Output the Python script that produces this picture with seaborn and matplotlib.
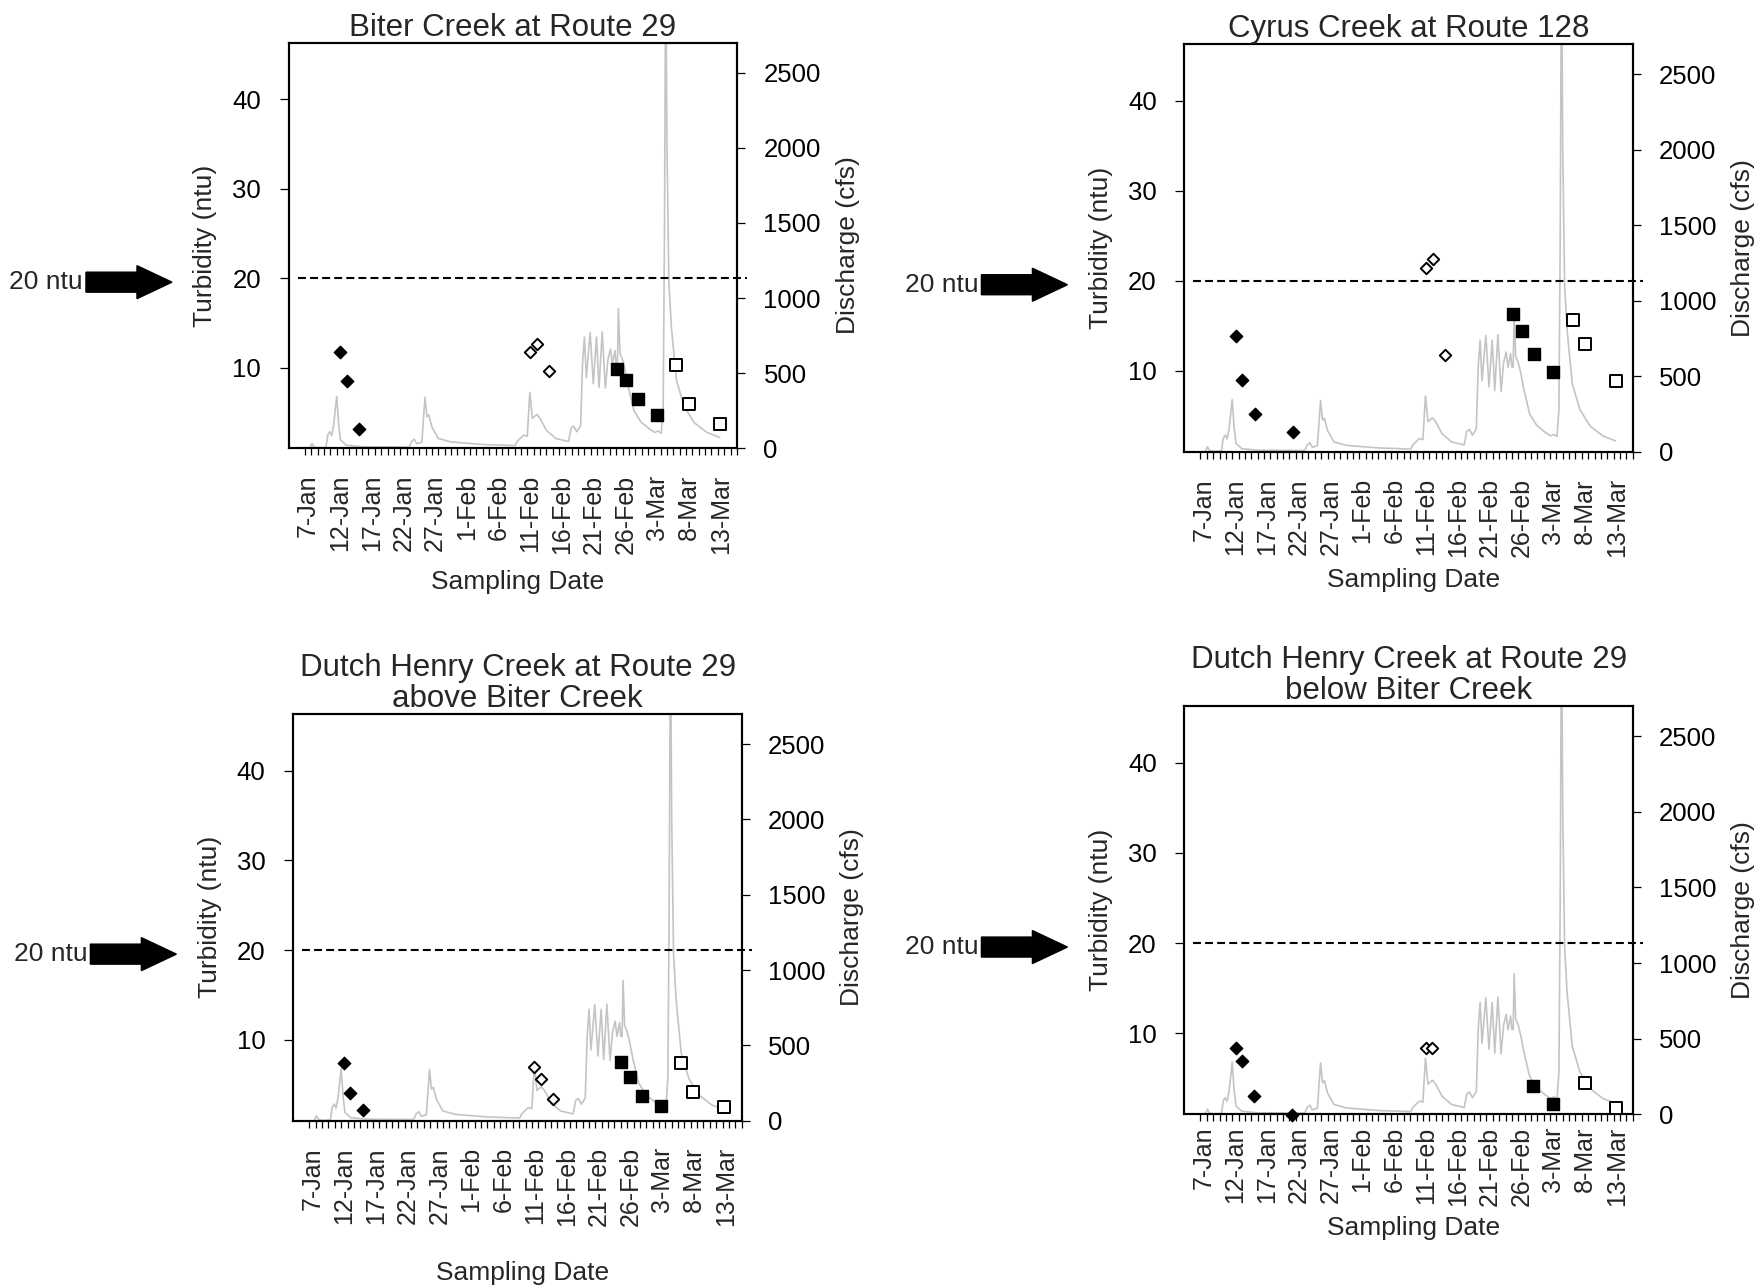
import numpy as np
import matplotlib
matplotlib.use('Agg')
import matplotlib.pyplot as plt
import seaborn as sns
from matplotlib.patches import FancyArrow
from matplotlib.transforms import IdentityTransform

sns.set_style('ticks')
plt.rcParams['font.family'] = ['Liberation Sans', 'DejaVu Sans']

# x axis is days after 7-Jan 00:00
date_labels = ['7-Jan', '12-Jan', '17-Jan', '22-Jan', '27-Jan', '1-Feb', '6-Feb',
               '11-Feb', '16-Feb', '21-Feb', '26-Feb', '3-Mar', '8-Mar', '13-Mar']

# discharge hydrograph (cfs), same gauge shown in every panel
flow_day = [0.8, 1.1, 1.4, 2.0, 3.3, 3.6, 3.9, 4.2, 4.5, 5.0, 5.3, 5.6, 6.5, 9.0,
            16.4, 16.8, 17.2, 17.6, 18.4, 18.9, 19.2, 19.5, 20.0, 21.0, 23.0, 28.0,
            33.1, 33.4, 34.0, 34.5, 35.0, 35.4, 35.8, 36.5, 37.0, 38.0, 39.5, 41.5,
            41.9, 42.3, 42.8, 43.4, 43.7, 44.0, 44.3, 44.9, 45.4, 45.9, 46.3, 46.8,
            47.3, 47.7, 48.1, 48.4, 48.8, 49.0, 49.2, 49.35, 49.6, 50.0, 50.4, 50.9,
            51.8, 52.9, 54.2, 55.1, 55.6, 56.1, 56.4, 56.6, 56.8, 57.0, 57.3, 57.7,
            58.5, 59.7, 61.3, 63.3, 65.3]
flow_cfs = [5, 33, 10, 3, 5, 90, 110, 85, 150, 345, 160, 55, 20, 10,
            8, 45, 60, 30, 40, 340, 210, 222, 140, 65, 42, 25,
            18, 45, 70, 88, 80, 370, 200, 225, 200, 120, 65, 45,
            135, 148, 110, 150, 560, 740, 470, 770, 430, 740, 405, 775,
            400, 590, 660, 560, 650, 560, 560, 930, 630, 590, 520, 410,
            250, 175, 130, 105, 115, 100, 280, 1400, 3300, 2000, 1100, 800,
            450, 280, 170, 105, 72]

# turbidity samples (ntu): fd = filled diamond, od = open diamond,
# fs = filled square, os = open square
biter_day_fd = [5.55, 6.55, 8.45]
biter_ntu_fd = [11.7, 8.5, 3.1]
biter_day_od = [35.4, 36.5, 38.4]
biter_ntu_od = [11.8, 12.7, 9.6]
biter_day_fs = [49.1, 50.5, 52.4, 55.4]
biter_ntu_fs = [9.9, 8.6, 6.5, 4.7]
biter_day_os = [58.4, 60.4, 65.3]
biter_ntu_os = [10.3, 6.0, 3.7]

cyrus_day_fd = [5.6, 6.5, 8.6, 14.5]
cyrus_ntu_fd = [13.9, 9.0, 5.2, 3.2]
cyrus_day_od = [35.5, 36.6, 38.5]
cyrus_ntu_od = [21.4, 22.4, 11.7]
cyrus_day_fs = [49.1, 50.6, 52.5, 55.5]
cyrus_ntu_fs = [16.3, 14.4, 11.9, 9.9]
cyrus_day_os = [58.6, 60.5, 65.4]
cyrus_ntu_os = [15.6, 13.0, 8.9]

dh_above_day_fd = [5.5, 6.4, 8.5]
dh_above_ntu_fd = [7.4, 4.1, 2.2]
dh_above_day_od = [35.4, 36.4, 38.3]
dh_above_ntu_od = [7.0, 5.7, 3.4]
dh_above_day_fs = [49.1, 50.4, 52.3, 55.3]
dh_above_ntu_fs = [7.5, 5.9, 3.8, 2.6]
dh_above_day_os = [58.4, 60.4, 65.3]
dh_above_ntu_os = [7.4, 4.2, 2.5]

dh_below_day_fd = [5.6, 6.5, 8.45, 14.4]
dh_below_ntu_fd = [8.3, 6.9, 3.0, 0.95]
dh_below_day_od = [35.5, 36.5]
dh_below_ntu_od = [8.4, 8.4]
dh_below_day_fs = [52.4, 55.4]
dh_below_ntu_fs = [4.15, 2.1]
dh_below_day_os = [60.5, 65.4]
dh_below_ntu_os = [4.5, 1.7]

threshold_ntu = 20

titles = ['Biter Creek at Route 29',
          'Cyrus Creek at Route 128',
          'Dutch Henry Creek at Route 29\nabove Biter Creek',
          'Dutch Henry Creek at Route 29\nbelow Biter Creek']

panels = [
    dict(fd=(biter_day_fd, biter_ntu_fd), od=(biter_day_od, biter_ntu_od),
         fs=(biter_day_fs, biter_ntu_fs), os=(biter_day_os, biter_ntu_os),
         pos=[0.1640, 0.6517, 0.2543, 0.3151], xlab=-0.30, xpad=19),
    dict(fd=(cyrus_day_fd, cyrus_ntu_fd), od=(cyrus_day_od, cyrus_ntu_od),
         fs=(cyrus_day_fs, cyrus_ntu_fs), os=(cyrus_day_os, cyrus_ntu_os),
         pos=[0.6722, 0.6490, 0.2545, 0.3168], xlab=-0.285, xpad=19),
    dict(fd=(dh_above_day_fd, dh_above_ntu_fd), od=(dh_above_day_od, dh_above_ntu_od),
         fs=(dh_above_day_fs, dh_above_ntu_fs), os=(dh_above_day_os, dh_above_ntu_os),
         pos=[0.1665, 0.1292, 0.2545, 0.3160], xlab=-0.345, xpad=19),
    dict(fd=(dh_below_day_fd, dh_below_ntu_fd), od=(dh_below_day_od, dh_below_ntu_od),
         fs=(dh_below_day_fs, dh_below_ntu_fs), os=(dh_below_day_os, dh_below_ntu_os),
         pos=[0.6722, 0.1342, 0.2545, 0.3172], xlab=-0.25, xpad=9),
]

fig = plt.figure(figsize=(17.62, 12.87), dpi=100)
fs_txt = 19

for title, p in zip(titles, panels):
    ax2 = fig.add_axes(p['pos'])
    ax = ax2.twinx()
    # turbidity axis drawn on the left, discharge on the right
    ax.yaxis.tick_left()
    ax.yaxis.set_label_position('left')
    ax2.yaxis.tick_right()
    ax2.yaxis.set_label_position('right')

    sns.lineplot(x=flow_day, y=flow_cfs, ax=ax2, color='#c4c4c4', linewidth=1.2)

    ax.hlines(threshold_ntu, -1.1, 69.6, colors='black', linewidth=1.5,
              linestyles=(0, (3.8, 2.0)), clip_on=False)

    sns.scatterplot(x=p['fd'][0], y=p['fd'][1], ax=ax, marker='D', s=40,
                    color='black', edgecolor='black', linewidth=1, clip_on=False, zorder=5)
    sns.scatterplot(x=p['od'][0], y=p['od'][1], ax=ax, marker='D', s=34,
                    color='white', edgecolor='black', linewidth=1.4, zorder=5)
    sns.scatterplot(x=p['fs'][0], y=p['fs'][1], ax=ax, marker='s', s=85,
                    color='black', edgecolor='black', linewidth=1, zorder=5)
    sns.scatterplot(x=p['os'][0], y=p['os'][1], ax=ax, marker='s', s=66,
                    color='white', edgecolor='black', linewidth=1.4, clip_on=False, zorder=5)

    ax.set_xlim(-2.52, 68.03)
    ax2.set_xlim(-2.52, 68.03)
    ax.set_ylim(1.0, 46.3)
    ax2.set_ylim(0, 2700)

    ax.set_yticks([10, 20, 30, 40])
    ax2.set_yticks([0, 500, 1000, 1500, 2000, 2500])
    ax.tick_params(axis='y', length=6.5, width=0.9, pad=13.5, labelsize=18.5,
                   colors='black')
    ax2.tick_params(axis='y', length=6, width=0.9, pad=13, labelsize=18.5,
                    colors='black')

    ax2.set_xticks([0.5 + 5 * i for i in range(len(date_labels))])
    ax2.set_xticklabels(date_labels, rotation=90, va='top', ha='center')
    ax2.set_xticks(np.arange(0, 69), minor=True)
    ax2.tick_params(axis='x', which='major', length=0, pad=p['xpad'], labelsize=18)
    ax2.tick_params(axis='x', which='minor', length=5, width=0.9, direction='out',
                    colors='black')
    ax.tick_params(axis='x', which='both', bottom=False, labelbottom=False)

    for a in (ax, ax2):
        for s in a.spines.values():
            s.set_visible(True)
            s.set_color('black')
            s.set_linewidth(1.5)

    ax.set_ylabel('Turbidity (ntu)', fontsize=fs_txt)
    ax.yaxis.set_label_coords(-0.16, 0.5)
    ax2.set_ylabel('Discharge (cfs)', fontsize=fs_txt)
    ax2.yaxis.set_label_coords(1.22, 0.5)
    ax2.set_xlabel('Sampling Date', fontsize=fs_txt)
    ax2.xaxis.set_label_coords(0.51, p['xlab'])
    ax.set_xlabel('')

    ax.set_title(title, fontsize=22.5, pad=1, linespacing=1.05)

    # "20 ntu" callout arrow
    x0 = ax.transAxes.transform((0, 0))[0]
    y20 = ax.transData.transform((0, threshold_ntu))[1] - 4
    fig.add_artist(FancyArrow(x0 - 203, y20, 86, 0, width=20, head_width=33,
                              head_length=35, length_includes_head=True,
                              color='black', transform=IdentityTransform()))
    fig.text(x0 - 206, y20, '20 ntu', transform=IdentityTransform(),
             ha='right', va='center', fontsize=fs_txt)

fig.savefig('out.png', dpi=100)
